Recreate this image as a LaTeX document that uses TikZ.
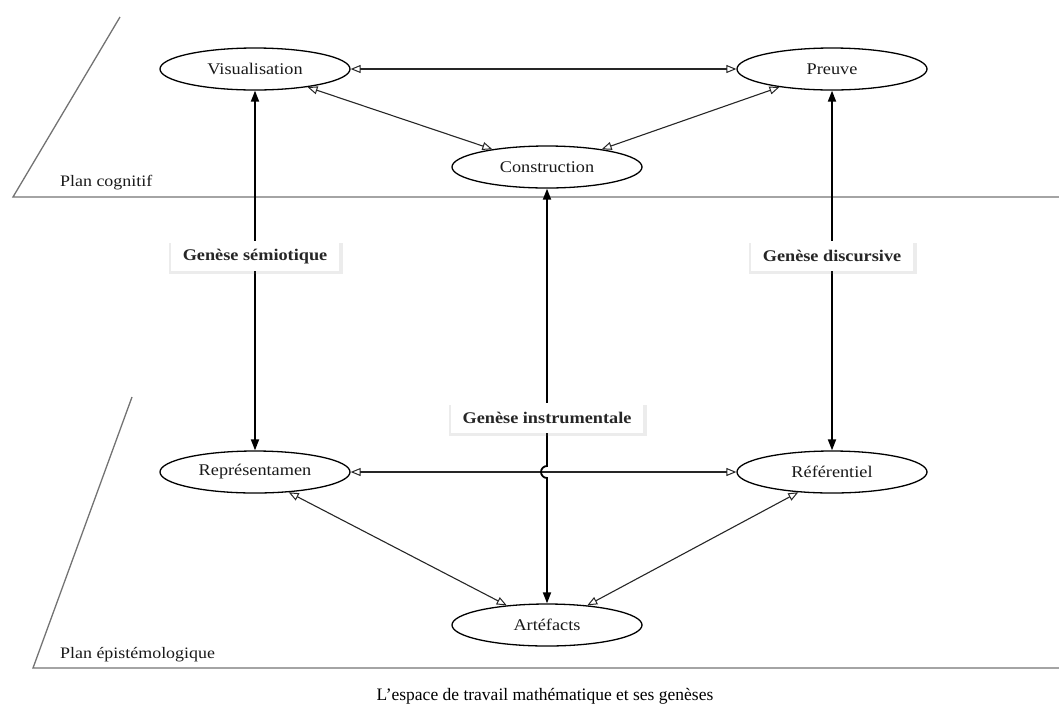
\documentclass[tikz,border=0pt]{standalone}
\usepackage{fontspec}
\setmainfont{Liberation Serif}[FakeStretch=1.12]
\newfontfamily\capfont{Liberation Serif}
\usetikzlibrary{shapes.geometric,arrows.meta,shadows,calc}
\begin{document}
\begin{tikzpicture}[x=1pt,y=1pt,
  pole/.style={draw=black, line width=1.3pt, ellipse, minimum width=190pt, minimum height=42pt, inner sep=0pt, font=\fontsize{16.3}{18}\selectfont, text=black!90},
  plan/.style={draw=black!55, line width=1.3pt},
  planlabel/.style={anchor=base west, inner sep=0pt, font=\fontsize{16}{18}\selectfont, text=black!90},
  link/.style={draw=black!85, line width=1.1pt, {Triangle[open,length=10pt,width=8pt,line width=1pt]}-{Triangle[open,length=10pt,width=8pt,line width=1pt]}},
  genese/.style={draw=black, line width=1.8pt, {Triangle[length=11pt,width=8pt]}-{Triangle[length=11pt,width=8pt]}},
  geneselabel/.style={fill=white, inner xsep=12pt, minimum height=30pt, font=\bfseries\fontsize{16.3}{18}\selectfont, text=black!85,
    drop shadow={opacity=0.15, shadow xshift=1pt, shadow yshift=-2pt, shadow scale=1.03}}
]
\useasboundingbox (0,0) rectangle (1059,-713);
% planes
\coordinate (pc1) at (120,-17);
\coordinate (pc2) at (13,-197);
\coordinate (pc3) at (1059,-197);
\draw[plan] (pc1) -- (pc2) -- (pc3);
\coordinate (pe1) at (132,-397);
\coordinate (pe2) at (33,-668);
\coordinate (pe3) at (1059,-668);
\draw[plan] (pe1) -- (pe2) -- (pe3);
\node[planlabel] (lcog) at (60,-186) {Plan cognitif};
\node[planlabel] (lepi) at (60,-658) {Plan épistémologique};
% poles
\node[pole] (V) at (255,-69) {Visualisation};
\node[pole] (P) at (832,-69) {Preuve};
\node[pole] (C) at (547,-167) {Construction};
\node[pole] (R) at (255,-472) {Représentamen};
\node[pole] (F) at (832,-472) {Référentiel};
\node[pole] (A) at (547,-625) {Artéfacts};
% cognitive links
\draw[link] (V) -- (P);
\draw[link] (V.-19) -- (C.162);
\draw[link] (P.-161) -- (C.18);
% epistemological links
\draw[link] (R) -- (F);
\draw[link] (R.-31) -- (A.154);
\draw[link] (F.-149) -- (A.26);
% geneses
\draw[genese] (V) -- (R) node[geneselabel, pos=0.46] (gs) {Genèse sémiotique};
\draw[genese] (P) -- (F) node[geneselabel, pos=0.46] (gd) {Genèse discursive};
\coordinate (j1) at (C.south |- 0,-466);
\draw[genese] (C) -- (j1) arc[start angle=90, end angle=270, radius=6pt] -- (A);
\node[geneselabel] (gi) at (547,-418) {Genèse instrumentale};
% caption
\node[font=\capfont\fontsize{17.5}{20}\selectfont, text=black] (cap) at (545,-696) {L’espace de travail mathématique et ses genèses};
\end{tikzpicture}
\end{document}
